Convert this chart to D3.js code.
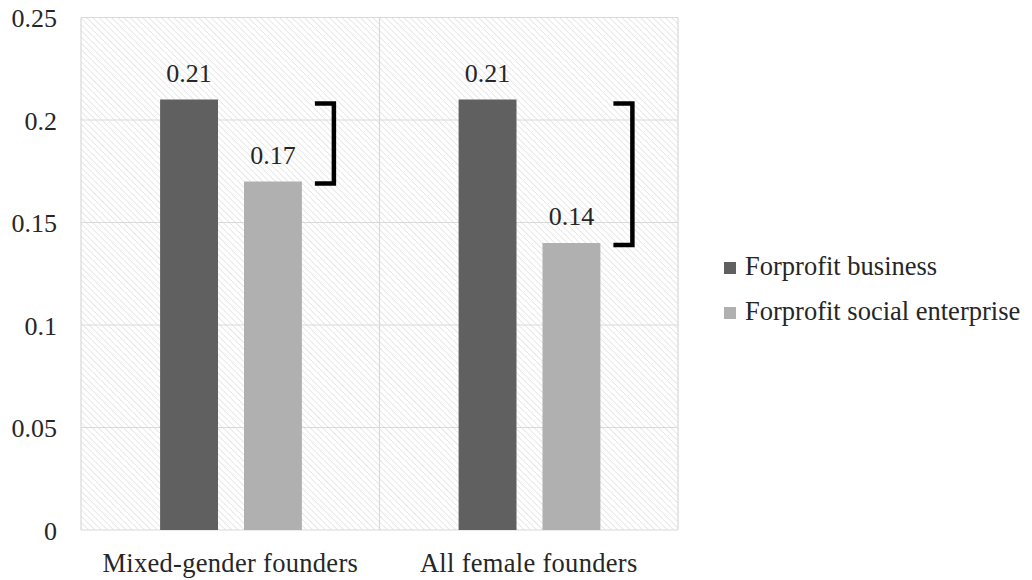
<!DOCTYPE html>
<html>
<head>
<meta charset="utf-8">
<script src="https://cdn.jsdelivr.net/npm/d3@7"></script>
<style>
  body { margin: 0; background: #fff; }
</style>
</head>
<body>
<svg id="chart" width="1032" height="580"></svg>
<script>
// Founder groups and the two enterprise types
const categories = ["Mixed-gender founders", "All female founders"];
const seriesNames = ["Forprofit business", "Forprofit social enterprise"];
const forprofitBusiness = [0.21, 0.21];
const socialEnterprise = [0.17, 0.14];
const valueLabels = [["0.21", "0.17"], ["0.21", "0.14"]];
const yTicks = [0, 0.05, 0.1, 0.15, 0.2, 0.25];
const yTickLabels = ["0", "0.05", "0.1", "0.15", "0.2", "0.25"];
const seriesColors = ["#606060", "#b0b0b0"];

const FONT = '"Liberation Serif"';
const TEXT_COLOR = "#262626";

// apply the serif face to a selection of text nodes
function serif(sel, size) {
  return sel.attr("font-family", "Liberation Serif")
    .style("font-family", FONT)
    .style("font-size", size + "px")
    .attr("fill", TEXT_COLOR);
}

const rows = categories.map((c, i) => ({
  category: c,
  values: [forprofitBusiness[i], socialEnterprise[i]],
  labels: valueLabels[i]
}));

const svg = d3.select("#chart");
const plot = { left: 81, right: 678, top: 17.5, bottom: 530 };

const x0 = d3.scaleBand().domain(categories).range([plot.left, plot.right]);
const bw = x0.bandwidth();
const x1 = d3.scaleBand().domain(seriesNames)
  .range([bw * 0.265, bw * 0.74]).paddingInner(0.31);
const y = d3.scaleLinear().domain([0, 0.25]).range([plot.bottom, plot.top]);

// diagonal hatch fill behind the plot
const defs = svg.append("defs");
const pat = defs.append("pattern")
  .attr("id", "hatch")
  .attr("patternUnits", "userSpaceOnUse")
  .attr("width", 4.4).attr("height", 4.4)
  .attr("patternTransform", "rotate(-45)");
pat.append("rect").attr("width", 4.4).attr("height", 4.4).attr("fill", "#fff");
pat.append("line").attr("x1", 0).attr("y1", 0).attr("x2", 0).attr("y2", 4.4)
  .attr("stroke", "#dcdcdc").attr("stroke-width", 1.3);

svg.append("rect")
  .attr("x", plot.left).attr("y", plot.top)
  .attr("width", plot.right - plot.left).attr("height", plot.bottom - plot.top)
  .attr("fill", "url(#hatch)");

// horizontal gridlines
svg.append("g").selectAll("line").data(yTicks).join("line")
  .attr("x1", plot.left).attr("x2", plot.right)
  .attr("y1", d => y(d)).attr("y2", d => y(d))
  .attr("stroke", "#d9d9d9").attr("stroke-width", 1.2);

// vertical separators between category groups and plot edges
const edges = [plot.left, ...categories.slice(1).map(c => x0(c)), plot.right];
svg.append("g").selectAll("line").data(edges).join("line")
  .attr("x1", d => d).attr("x2", d => d)
  .attr("y1", plot.top).attr("y2", plot.bottom)
  .attr("stroke", "#d9d9d9").attr("stroke-width", 1.2);

// y axis labels
const yAxis = d3.axisLeft(y).tickValues(yTicks)
  .tickFormat((d, i) => yTickLabels[i]).tickSize(0).tickPadding(24);
const gy = svg.append("g").attr("transform", `translate(${plot.left},0)`).call(yAxis)
  .attr("font-family", "Liberation Serif");
gy.select(".domain").remove();
serif(gy.selectAll("text"), 26).attr("dy", "0.35em");

// x axis labels
const xAxis = d3.axisBottom(x0).tickSize(0).tickPadding(23);
const gx = svg.append("g").attr("transform", `translate(0,${plot.bottom})`).call(xAxis)
  .attr("font-family", "Liberation Serif");
gx.select(".domain").remove();
serif(gx.selectAll("text"), 26.5).style("letter-spacing", "0.3px");

// bars
const groups = svg.append("g").selectAll("g").data(rows).join("g")
  .attr("transform", d => `translate(${x0(d.category)},0)`);

groups.selectAll("rect").data(d => d.values.map((v, i) => ({ v, s: seriesNames[i], i })))
  .join("rect")
  .attr("x", d => x1(d.s)).attr("width", x1.bandwidth())
  .attr("y", d => y(d.v)).attr("height", d => y(0) - y(d.v))
  .attr("fill", d => seriesColors[d.i]);

// value labels
serif(groups.selectAll("text.val").data(d => d.values.map((v, i) => ({ v, s: seriesNames[i], label: d.labels[i] })))
  .join("text").attr("class", "val")
  .attr("x", d => x1(d.s) + x1.bandwidth() / 2)
  .attr("y", d => y(d.v) - 18)
  .attr("text-anchor", "middle")
  .text(d => d.label), 26);

// brackets spanning the gap between the two bars
groups.append("path")
  .attr("d", d => {
    const xa = x1(seriesNames[1]) + x1.bandwidth() + 13;
    const xb = xa + 19;
    const yt = y(d.values[0]) + 4;
    const yb = y(d.values[1]) + 2;
    return `M${xa},${yt}H${xb}V${yb}H${xa}`;
  })
  .attr("fill", "none").attr("stroke", "#000").attr("stroke-width", 4.5)
  .attr("stroke-linejoin", "miter");

// legend
const legend = svg.append("g").selectAll("g").data(seriesNames).join("g")
  .attr("transform", (d, i) => `translate(724,${275 + i * 45})`);
legend.append("rect").attr("x", 0).attr("y", -13).attr("width", 12).attr("height", 12)
  .attr("fill", (d, i) => seriesColors[i]);
serif(legend.append("text").attr("x", 21).attr("y", 0).text(d => d), 26.5);
</script>
</body>
</html>
